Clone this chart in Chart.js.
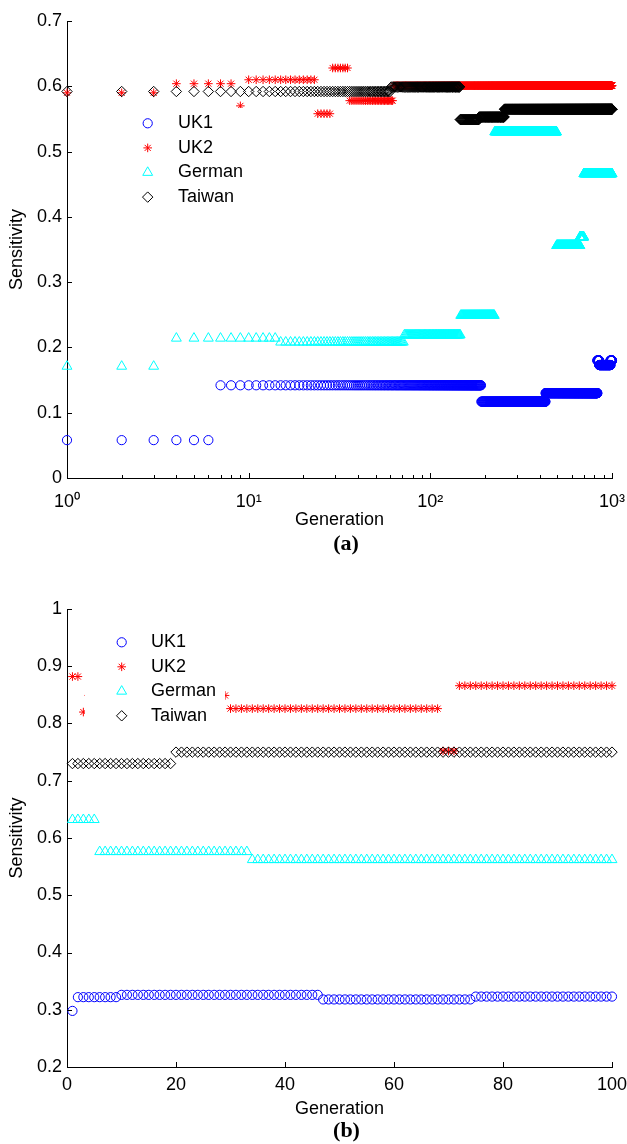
<!DOCTYPE html>
<html>
<head>
<meta charset="utf-8">
<script src="https://cdn.jsdelivr.net/npm/chart.js@4.4.1/dist/chart.umd.min.js"></script>
<style>
  body { margin: 0; background: #fff; }
  canvas { display: block; }
</style>
</head>
<body>
<canvas id="chartA" width="627" height="560"></canvas>
<canvas id="chartB" width="627" height="584"></canvas>
<script>
// Each series is a list of runs: [first generation, last generation, sensitivity]
const seriesNames = ['UK1', 'UK2', 'German', 'Taiwan'];

// (a) 1000 generations, log x axis
const uk1RunsA = [[1, 6, 0.058], [7, 190, 0.142], [191, 430, 0.117], [431, 830, 0.130],
                  [831, 850, 0.180], [851, 980, 0.173], [981, 1000, 0.180]];
const uk2RunsA = [[1, 3, 0.590], [4, 8, 0.604], [9, 9, 0.570], [10, 23, 0.610], [24, 28, 0.558],
                  [29, 35, 0.628], [36, 62, 0.578], [63, 1000, 0.601]];
const germanRunsA = [[1, 3, 0.171], [4, 14, 0.214], [15, 71, 0.208], [72, 146, 0.219], [147, 225, 0.249],
                     [226, 495, 0.530], [496, 665, 0.356], [666, 699, 0.369], [700, 1000, 0.466]];
const taiwanRunsA = [[1, 60, 0.592], [61, 145, 0.599], [146, 185, 0.549], [186, 255, 0.553], [256, 1000, 0.565]];

const xTicksA = [1, 10, 100, 1000];
const xTickLabelsA = ['10\u2070', '10\u00b9', '10\u00b2', '10\u00b3'];
const xMinorTicksA = [2, 3, 4, 5, 6, 7, 8, 9, 20, 30, 40, 50, 60, 70, 80, 90, 200, 300, 400, 500, 600, 700, 800, 900];
const yTicksA = [0, 0.1, 0.2, 0.3, 0.4, 0.5, 0.6, 0.7];
const yTickLabelsA = ['0', '0.1', '0.2', '0.3', '0.4', '0.5', '0.6', '0.7'];

// (b) 100 generations, linear x axis
const uk1RunsB = [[1, 1, 0.298], [2, 9, 0.322], [10, 46, 0.326], [47, 74, 0.318], [75, 100, 0.323]];
const uk2RunsB = [[1, 2, 0.882], [3, 3, 0.820], [4, 29, 0.849], [30, 68, 0.826], [69, 71, 0.752], [72, 100, 0.866]];
const germanRunsB = [[1, 5, 0.632], [6, 33, 0.576], [34, 100, 0.562]];
const taiwanRunsB = [[1, 19, 0.730], [20, 100, 0.750]];

const xTicksB = [0, 20, 40, 60, 80, 100];
const xTickLabelsB = ['0', '20', '40', '60', '80', '100'];
const yTicksB = [0.2, 0.3, 0.4, 0.5, 0.6, 0.7, 0.8, 0.9, 1];
const yTickLabelsB = ['0.2', '0.3', '0.4', '0.5', '0.6', '0.7', '0.8', '0.9', '1'];

const FONT = '"Liberation Sans", Arial, Helvetica, sans-serif';

// marker look for each series (MATLAB style: o * ^ d)
const markers = [
  { color: '#0000ff', pointStyle: 'circle', radius: 4.6 },
  { color: '#ff0000', pointStyle: 'star', radius: 4.3 },
  { color: '#00ffff', pointStyle: 'triangle', radius: 5.7 },
  { color: '#000000', pointStyle: 'rectRot', radius: 5.2 }
];

function expand(runs) {
  const pts = [];
  runs.forEach(([from, to, v]) => {
    for (let g = from; g <= to; g++) pts.push({ x: g, y: v });
  });
  return pts;
}

function makeDatasets(allRuns) {
  return allRuns.map((runs, i) => ({
    label: seriesNames[i],
    data: expand(runs),
    showLine: false,
    pointStyle: markers[i].pointStyle,
    pointRadius: markers[i].radius,
    pointBorderWidth: 1,
    borderColor: markers[i].color,
    pointBorderColor: markers[i].color,
    backgroundColor: 'rgba(0,0,0,0)',
    pointBackgroundColor: 'rgba(0,0,0,0)',
    order: 4 - i,   // Taiwan drawn last, like the original
    clip: false
  }));
}

// inward ticks, opaque legend and the (a)/(b) caption
const matlabLook = {
  id: 'matlabLook',
  afterDatasetsDraw(chart, args, opts) {
    const { ctx, chartArea, scales: { x, y } } = chart;
    ctx.save();
    ctx.strokeStyle = '#000';
    ctx.lineWidth = 1;
    ctx.beginPath();
    const bottom = Math.round(chartArea.bottom);
    const left = Math.round(chartArea.left);
    opts.xMajor.forEach(v => {
      const px = Math.round(x.getPixelForValue(v)) + 0.5;
      ctx.moveTo(px, bottom); ctx.lineTo(px, bottom - 5);
    });
    (opts.xMinor || []).forEach(v => {
      const px = Math.round(x.getPixelForValue(v)) + 0.5;
      ctx.moveTo(px, bottom); ctx.lineTo(px, bottom - 3);
    });
    opts.yMajor.forEach(v => {
      const py = Math.round(y.getPixelForValue(v)) + 0.5;
      ctx.moveTo(left, py); ctx.lineTo(left + 5, py);
    });
    ctx.stroke();

    // legend
    const L = opts.legend;
    ctx.fillStyle = '#fff';
    ctx.fillRect(L.left, L.top, L.right - L.left, L.bottom - L.top);
    chart.data.datasets.forEach((ds, i) => {
      const ry = L.rowY + i * L.rowGap;
      ctx.strokeStyle = ds.borderColor;
      ctx.fillStyle = 'rgba(0,0,0,0)';
      ctx.lineWidth = 1;
      Chart.helpers.drawPoint(ctx, { pointStyle: ds.pointStyle, radius: ds.pointRadius, rotation: 0, borderWidth: 1 }, L.markerX, ry);
      ctx.fillStyle = '#000';
      ctx.font = '18px ' + FONT;
      ctx.textAlign = 'left';
      ctx.textBaseline = 'middle';
      ctx.fillText(ds.label, L.textX, ry);
    });

    // caption
    ctx.fillStyle = '#000';
    ctx.font = 'bold 22px "Liberation Serif", "Times New Roman", serif';
    ctx.textAlign = 'center';
    ctx.textBaseline = 'middle';
    ctx.fillText(opts.caption.text, opts.caption.x, opts.caption.y);
    ctx.restore();
  }
};

function noEdgePadding(s) {
  s.paddingLeft = 0; s.paddingRight = 0; s.paddingTop = 0; s.paddingBottom = 0;
}

function makeChart(id, p) {
  const tickFont = { family: FONT, size: 18 };
  return new Chart(document.getElementById(id), {
    type: 'scatter',
    data: { datasets: makeDatasets(p.runs) },
    options: {
      responsive: false,
      animation: false,
      devicePixelRatio: 1,
      events: [],
      layout: { padding: p.padding },
      plugins: {
        legend: { display: false },
        tooltip: { enabled: false },
        matlabLook: {
          xMajor: p.xTicks, xMinor: p.xMinor, yMajor: p.yTicks,
          legend: p.legend, caption: p.caption
        }
      },
      scales: {
        x: {
          type: p.xType,
          min: p.xTicks[0],
          max: p.xTicks[p.xTicks.length - 1],
          afterBuildTicks: s => { s.ticks = p.xTicks.map(v => ({ value: v })); },
          afterFit: s => { s.height = p.xHeight; noEdgePadding(s); },
          ticks: {
            autoSkip: false, maxRotation: 0, padding: p.xPad, color: '#000', font: tickFont,
            callback: (v, i) => p.xLabels[i]
          },
          grid: { display: true, drawOnChartArea: false, drawTicks: false },
          border: { display: true, color: '#000', width: 1 },
          title: { display: true, text: 'Generation', color: '#000', font: tickFont, padding: 0 }
        },
        y: {
          type: 'linear',
          min: p.yTicks[0],
          max: p.yTicks[p.yTicks.length - 1],
          afterBuildTicks: s => { s.ticks = p.yTicks.map(v => ({ value: v })); },
          afterFit: s => { s.width = 67; noEdgePadding(s); },
          ticks: {
            padding: 5, color: '#000', font: tickFont,
            callback: (v, i) => p.yLabels[i]
          },
          grid: { display: true, drawOnChartArea: false, drawTicks: false },
          border: { display: true, color: '#000', width: 1 },
          title: { display: true, text: 'Sensitivity', color: '#000', font: tickFont, padding: { top: 6, bottom: 0 } }
        }
      }
    },
    plugins: [matlabLook]
  });
}

makeChart('chartA', {
  runs: [uk1RunsA, uk2RunsA, germanRunsA, taiwanRunsA],
  xType: 'logarithmic',
  xTicks: xTicksA, xLabels: xTickLabelsA, xMinor: xMinorTicksA,
  yTicks: yTicksA, yLabels: yTickLabelsA,
  padding: { top: 21, right: 15, bottom: 29.2, left: 0 },
  xHeight: 52.8, xPad: 13.7,
  legend: { left: 112, top: 108, right: 252, bottom: 211, markerX: 147.7, textX: 178, rowY: 123.3, rowGap: 24.6 },
  caption: { text: '(a)', x: 346, y: 544 }
});

makeChart('chartB', {
  runs: [uk1RunsB, uk2RunsB, germanRunsB, taiwanRunsB],
  xType: 'linear',
  xTicks: xTicksB, xLabels: xTickLabelsB,
  yTicks: yTicksB, yLabels: yTickLabelsB,
  padding: { top: 49, right: 15, bottom: 24, left: 0 },
  xHeight: 53, xPad: 7.7,
  legend: { left: 85, top: 68, right: 225, bottom: 170, markerX: 121.7, textX: 151, rowY: 82.3, rowGap: 24.5 },
  caption: { text: '(b)', x: 346.5, y: 571 }
});
</script>
</body>
</html>
